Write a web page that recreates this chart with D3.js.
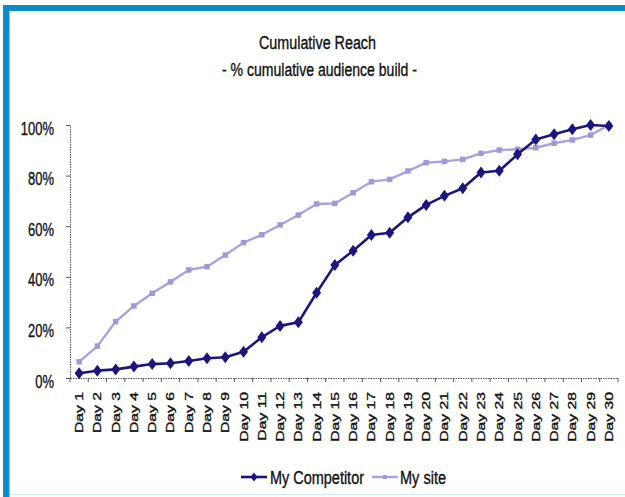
<!DOCTYPE html>
<html>
<head>
<meta charset="utf-8">
<script src="https://cdn.jsdelivr.net/npm/d3@7"></script>
<style>
  html, body { margin: 0; padding: 0; background: #fff; }
  svg { display: block; font-family: "Liberation Sans", Arial, sans-serif; }
  text { stroke: #111; stroke-width: 0.35px; }
</style>
</head>
<body>
<svg id="chart" width="625" height="497"></svg>
<script>
const days = ["Day 1","Day 2","Day 3","Day 4","Day 5","Day 6","Day 7","Day 8","Day 9","Day 10",
  "Day 11","Day 12","Day 13","Day 14","Day 15","Day 16","Day 17","Day 18","Day 19","Day 20",
  "Day 21","Day 22","Day 23","Day 24","Day 25","Day 26","Day 27","Day 28","Day 29","Day 30"];
const competitor = [0.019,0.029,0.034,0.045,0.055,0.058,0.067,0.078,0.082,0.104,
  0.161,0.206,0.220,0.337,0.447,0.503,0.565,0.574,0.635,0.684,
  0.720,0.750,0.812,0.819,0.884,0.943,0.963,0.983,1.000,0.996];
const mySite = [0.064,0.126,0.223,0.285,0.335,0.380,0.427,0.440,0.486,0.535,
  0.566,0.605,0.644,0.688,0.690,0.732,0.776,0.785,0.818,0.851,
  0.856,0.864,0.888,0.901,0.904,0.910,0.928,0.941,0.960,1.000];
const yTicks = [0, 0.2, 0.4, 0.6, 0.8, 1.0];
const seriesNames = ["My Competitor", "My site"];
const colors = { comp: "#1b1580", site: "#a7a3de", siteMarker: "#9e9ad8", frame: "#0b8dcd" };

const svg = d3.select("#chart");

// Frame
svg.append("rect").attr("x", 3).attr("y", 5).attr("width", 622).attr("height", 6).attr("fill", colors.frame);
svg.append("rect").attr("x", 3).attr("y", 5).attr("width", 6.5).attr("height", 492).attr("fill", colors.frame);
svg.append("line").attr("x1", 10).attr("x2", 625).attr("y1", 494.5).attr("y2", 494.5)
  .attr("stroke", "#d4e8f4").attr("stroke-width", 1);

// Titles
function fitText(sel, len) { sel.attr("textLength", len).attr("lengthAdjust", "spacingAndGlyphs"); }
const t1 = svg.append("text").attr("x", 259).attr("y", 49).attr("font-size", 18).attr("fill", "#111")
  .text("Cumulative Reach");
fitText(t1, 117);
const t2 = svg.append("text").attr("x", 222).attr("y", 76).attr("font-size", 18).attr("fill", "#111")
  .text("- %  cumulative audience build -");
fitText(t2, 195);

// Scales
const x = d3.scaleBand().domain(days).range([70, 618]).paddingInner(0).paddingOuter(0);
const y = d3.scaleLinear().domain([0, 1]).range([378, 125]);
const cx = d => x(d) + x.bandwidth() / 2;

// Y axis
const yAxis = svg.append("g").attr("transform", "translate(70,0)")
  .call(d3.axisLeft(y).tickValues(yTicks).tickSize(4).tickFormat(d3.format(".0%")));
yAxis.select(".domain").attr("stroke", "#555").attr("stroke-dasharray", "1.5,1");
yAxis.selectAll(".tick line").attr("stroke", "#555");
yAxis.selectAll(".tick text").attr("font-size", 18).attr("fill", "#111")
  .attr("x", -16).attr("dy", 9).attr("font-family", "Liberation Sans, Arial, sans-serif")
  .each(function() {
    const l = this.getComputedTextLength();
    d3.select(this).attr("textLength", l * 0.72).attr("lengthAdjust", "spacingAndGlyphs");
  });

// X axis
const xAxis = svg.append("g").attr("transform", "translate(0,378)")
  .call(d3.axisBottom(x).tickSize(0).tickSizeOuter(0));
xAxis.select(".domain").attr("stroke", "#555").attr("stroke-dasharray", "1.5,1");
const bounds = days.map(d => x(d)).concat([x(days[days.length - 1]) + x.bandwidth()]);
xAxis.selectAll(".btick").data(bounds).enter().append("line")
  .attr("x1", d => d).attr("x2", d => d).attr("y1", 0).attr("y2", 4).attr("stroke", "#555");
xAxis.selectAll(".tick text")
  .attr("font-size", 11).attr("fill", "#111").attr("font-family", "Liberation Sans, Arial, sans-serif")
  .attr("text-anchor", "end")
  .attr("transform", "rotate(-90)")
  .attr("x", -14).attr("y", 0).attr("dy", "0.36em")
  .each(function() {
    const l = this.getComputedTextLength();
    d3.select(this).attr("textLength", l * 1.43).attr("lengthAdjust", "spacingAndGlyphs");
  });

// Lines
const lineGen = arr => d3.line().x((d, i) => cx(days[i])).y(d => y(d))(arr);
svg.append("path").attr("d", lineGen(mySite)).attr("fill", "none")
  .attr("stroke", colors.site).attr("stroke-width", 2.4).attr("stroke-linejoin", "round");
svg.append("g").selectAll("rect").data(mySite).enter().append("rect")
  .attr("x", (d, i) => cx(days[i]) - 2.75).attr("y", d => y(d) - 2.75)
  .attr("width", 5.5).attr("height", 5.5).attr("fill", colors.siteMarker);

const diamond = "M0,-6L4.5,0L0,6L-4.5,0Z";
svg.append("path").attr("d", lineGen(competitor)).attr("fill", "none")
  .attr("stroke", colors.comp).attr("stroke-width", 2.6).attr("stroke-linejoin", "round");
svg.append("g").selectAll("path").data(competitor).enter().append("path")
  .attr("d", diamond).attr("transform", (d, i) => `translate(${cx(days[i])},${y(d)})`)
  .attr("fill", colors.comp);

// Legend
const lg = svg.append("g");
lg.append("line").attr("x1", 241).attr("x2", 267).attr("y1", 477).attr("y2", 477)
  .attr("stroke", colors.comp).attr("stroke-width", 2.6);
lg.append("path").attr("d", "M0,-4.5L3.5,0L0,4.5L-3.5,0Z").attr("transform", "translate(254,477)").attr("fill", colors.comp);
const l1 = lg.append("text").attr("x", 270).attr("y", 484).attr("font-size", 17.5).attr("fill", "#111").text(seriesNames[0]);
fitText(l1, 94);
lg.append("line").attr("x1", 372).attr("x2", 398).attr("y1", 477).attr("y2", 477)
  .attr("stroke", colors.site).attr("stroke-width", 2.4);
lg.append("rect").attr("x", 383).attr("y", 475).attr("width", 4).attr("height", 4).attr("fill", colors.siteMarker);
const l2 = lg.append("text").attr("x", 400).attr("y", 484).attr("font-size", 17.5).attr("fill", "#111").text(seriesNames[1]);
fitText(l2, 46);
</script>
</body>
</html>
